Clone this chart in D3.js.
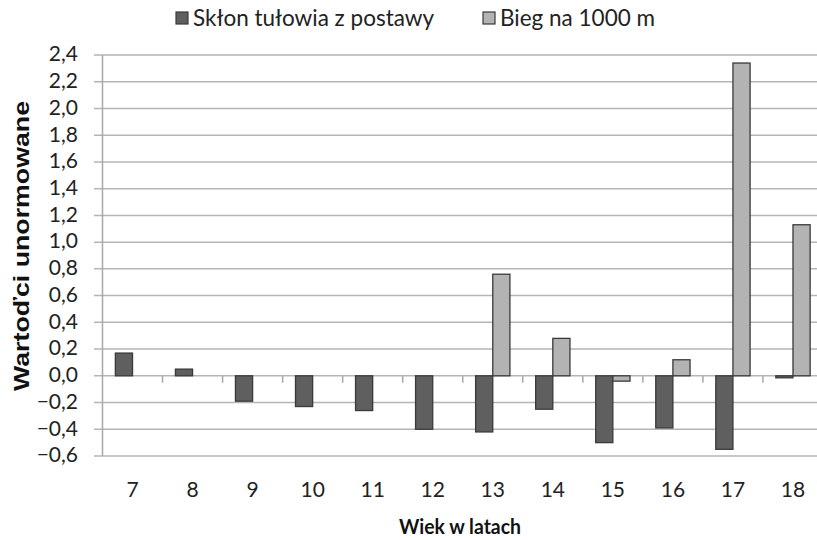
<!DOCTYPE html>
<html><head><meta charset="utf-8">
<script src="https://cdn.jsdelivr.net/npm/d3@7"></script>
<style>body{margin:0;background:#fff}svg{display:block}</style>
</head><body>
<script>
const categories = ["7","8","9","10","11","12","13","14","15","16","17","18"];
const seriesNames = ["Skłon tułowia z postawy", "Bieg na 1000 m"];
const sklon = [0.17, 0.05, -0.19, -0.23, -0.26, -0.40, -0.42, -0.25, -0.50, -0.39, -0.55, -0.015];
const bieg  = [0, 0, 0, 0, 0, 0, 0.76, 0.28, -0.04, 0.12, 2.34, 1.13];
const yTicks = [-0.6,-0.4,-0.2,0,0.2,0.4,0.6,0.8,1.0,1.2,1.4,1.6,1.8,2.0,2.2,2.4];
const colors = ["#5f5f5f", "#b3b3b3"];

const W = 817, H = 540;
const svg = d3.select("body").append("svg").attr("width", W).attr("height", H);
const font = "Lato, 'Open Sans', sans-serif";

const x = d3.scaleBand().domain(categories).range([102.5, 823]).paddingInner(0.4286).paddingOuter(0.2143);
const xs = d3.scaleBand().domain([0,1]).range([0, x.bandwidth()]);
const y = d3.scaleLinear().domain([-0.6, 2.4]).range([456, 55]);

// gridlines
svg.append("g").selectAll("line").data(yTicks).join("line")
  .attr("x1", 94).attr("x2", W).attr("y1", d => y(d)).attr("y2", d => y(d))
  .attr("stroke", "#b5b5b5").attr("stroke-width", 1.5);

// y axis line
svg.append("line").attr("x1", 102.5).attr("x2", 102.5).attr("y1", y(2.4)).attr("y2", y(-0.6))
  .attr("stroke", "#a8a8a8").attr("stroke-width", 1.5);

// x tick marks at category boundaries on zero line
const step = x.step();
svg.append("g").selectAll("line").data(categories.slice(1)).join("line")
  .attr("x1", d => x(d) - x.paddingInner()*step/2).attr("x2", d => x(d) - x.paddingInner()*step/2)
  .attr("y1", y(0)).attr("y2", y(0) + 7)
  .attr("stroke", "#a8a8a8").attr("stroke-width", 1.5);

// y labels
svg.append("g").selectAll("text").data(yTicks).join("text")
  .attr("x", 78).attr("y", d => y(d) - 1).attr("dy", "0.35em").attr("text-anchor", "end")
  .attr("font-family", font).attr("font-size", 21).attr("fill", "#222")
  .text(d => d3.format(".1f")(d).replace(".", ","));

// bars
const series = [sklon, bieg];
series.forEach((vals, si) => {
  svg.append("g").selectAll("rect").data(categories.map((c, i) => ({c, v: vals[i]})).filter(d => d.v !== 0)).join("rect")
    .attr("x", d => x(d.c) + xs(si))
    .attr("width", xs.bandwidth())
    .attr("y", d => y(Math.max(0, d.v)))
    .attr("height", d => Math.abs(y(d.v) - y(0)))
    .attr("fill", colors[si]).attr("stroke", "#3a3a3a").attr("stroke-width", 1.3);
});

// x labels
svg.append("g").selectAll("text").data(categories).join("text")
  .attr("x", d => x(d) + x.bandwidth()/2).attr("y", 490).attr("dy", "0.35em").attr("text-anchor", "middle")
  .attr("font-family", font).attr("font-size", 21).attr("fill", "#222").text(d => d);

// x title
svg.append("text").attr("x", 460).attr("y", 527).attr("dy", "0.35em").attr("text-anchor", "middle")
  .attr("font-family", font).attr("font-weight", "bold").attr("font-size", 21).attr("fill", "#111")
  .attr("textLength", 122).attr("lengthAdjust", "spacingAndGlyphs").text("Wiek w latach");

// y title
svg.append("text").attr("transform", "translate(21,246) rotate(-90)").attr("dy", "0.35em").attr("text-anchor", "middle")
  .attr("font-family", "'Liberation Sans', Arial, sans-serif").attr("font-weight", "bold").attr("font-size", 22).attr("fill", "#111")
  .attr("textLength", 290).attr("lengthAdjust", "spacingAndGlyphs")
  .text("Wartoďci unormowane");

// legend
const legend = [{name: seriesNames[0], x: 176}, {name: seriesNames[1], x: 483}];
legend.forEach((l, i) => {
  svg.append("rect").attr("x", l.x).attr("y", 12).attr("width", 12).attr("height", 12)
    .attr("fill", colors[i]).attr("stroke", "#3a3a3a").attr("stroke-width", 1.2);
  svg.append("text").attr("x", l.x + 17).attr("y", 18).attr("dy", "0.35em")
    .attr("font-family", font).attr("font-size", 22.5).attr("fill", "#222").text(l.name);
});
</script>
</body></html>
